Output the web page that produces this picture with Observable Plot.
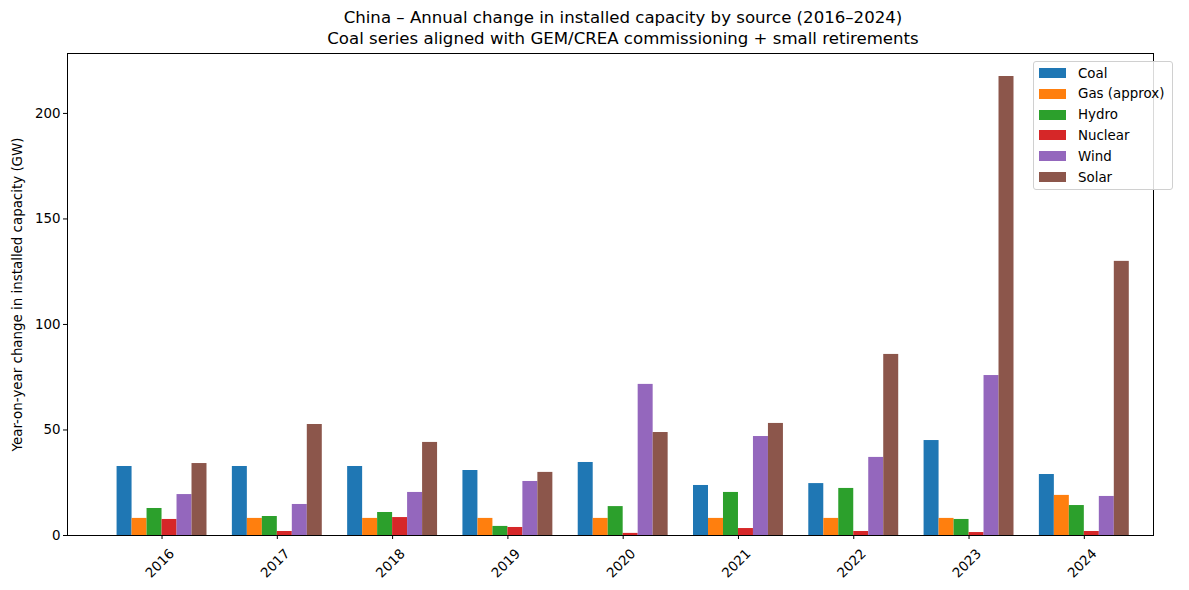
<!DOCTYPE html>
<html>
<head>
<meta charset="utf-8">
<script src="https://cdn.jsdelivr.net/npm/d3@7"></script>
<script src="https://cdn.jsdelivr.net/npm/@observablehq/plot@0.6"></script>
<style>
  html, body { margin: 0; padding: 0; background: #fff; }
  #wrap { position: relative; width: 1189px; height: 590px; font-family: "DejaVu Sans", sans-serif; color: #000; }
  #title { position: absolute; left: 80px; width: 1086px; top: 7px; text-align: center; font-size: 16.6px; line-height: 21px; }
  #legend { position: absolute; left: 1033px; top: 61px; width: 140px; height: 129px; border: 1px solid #d0d0d0; border-radius: 3px; background: rgba(255,255,255,0.85); box-sizing: border-box; }
  .row { position: absolute; left: 5px; height: 14px; display: flex; align-items: center; font-size: 13.4px; }
  .sw { width: 27px; height: 10px; margin-right: 12px; }
  svg { position: absolute; left: 0; top: 0; }
</style>
</head>
<body>
<div id="wrap">
  <div id="chart"></div>
  <div id="title">China – Annual change in installed capacity by source (2016–2024)<br>Coal series aligned with GEM/CREA commissioning + small retirements</div>
  <div id="legend"></div>
</div>
<script>
const years = [2016, 2017, 2018, 2019, 2020, 2021, 2022, 2023, 2024];
const sources = ["Coal", "Gas (approx)", "Hydro", "Nuclear", "Wind", "Solar"];
const colors = ["#1f77b4", "#ff7f0e", "#2ca02c", "#d62728", "#9467bd", "#8c564b"];
const coal = [32.7, 32.7, 32.7, 30.8, 34.6, 23.7, 24.6, 45.0, 28.9];
const gas = [8.1, 8.1, 8.1, 8.1, 8.1, 8.1, 8.1, 8.1, 19.0];
const hydro = [12.8, 9.0, 10.9, 4.3, 13.7, 20.4, 22.3, 7.6, 14.2];
const nuclear = [7.6, 1.9, 8.5, 3.8, 1.0, 3.3, 1.9, 1.4, 1.9];
const wind = [19.4, 14.7, 20.4, 25.6, 71.6, 46.9, 37.0, 75.8, 18.5];
const solar = [34.1, 52.6, 44.1, 29.9, 48.8, 53.1, 85.8, 217.5, 129.9];
const yTicks = [0, 50, 100, 150, 200];

const series = [coal, gas, hydro, nuclear, wind, solar];
const barW = 0.13;
const rows = [];
series.forEach((vals, j) => {
  vals.forEach((v, i) => {
    const x1 = years[i] + (j - 3) * barW;
    rows.push({ source: sources[j], year: years[i], x1, x2: x1 + barW, value: v });
  });
});

const chart = Plot.plot({
  width: 1189,
  height: 590,
  marginTop: 53,
  marginBottom: 55,
  marginLeft: 67,
  marginRight: 36,
  style: { fontFamily: "DejaVu Sans, sans-serif", fontSize: "13.4px", color: "#000", background: "transparent" },
  x: { type: "linear", domain: [2015.18, 2024.6] },
  y: { domain: [0, 228.4] },
  color: { domain: sources, range: colors },
  marks: [
    Plot.rectY(rows, { x1: "x1", x2: "x2", y1: 0, y2: "value", fill: "source", insetLeft: 0, insetRight: 0 }),
    Plot.axisY({ ticks: yTicks, tickSize: 4, tickPadding: 3, label: "Year-on-year change in installed capacity (GW)", labelAnchor: "center", labelArrow: "none", labelOffset: 55, tickFormat: d => String(d) }),
    Plot.axisX({ ticks: years, tickSize: 4, tickFormat: () => "", label: null }),
    Plot.axisX({ ticks: years, tickSize: 0, tickPadding: 3, tickFormat: d => String(d), tickRotate: -45, textAnchor: "middle", lineAnchor: "middle", dy: 25, dx: -2, label: null }),
    Plot.frame({ stroke: "#000", strokeWidth: 1 })
  ]
});
document.getElementById("chart").appendChild(chart);

const legend = document.getElementById("legend");
sources.forEach((s, j) => {
  const r = document.createElement("div");
  r.className = "row";
  r.style.top = (4 + j * 20.8) + "px";
  r.innerHTML = `<div class="sw" style="background:${colors[j]}"></div><span>${s}</span>`;
  legend.appendChild(r);
});
</script>
</body>
</html>
